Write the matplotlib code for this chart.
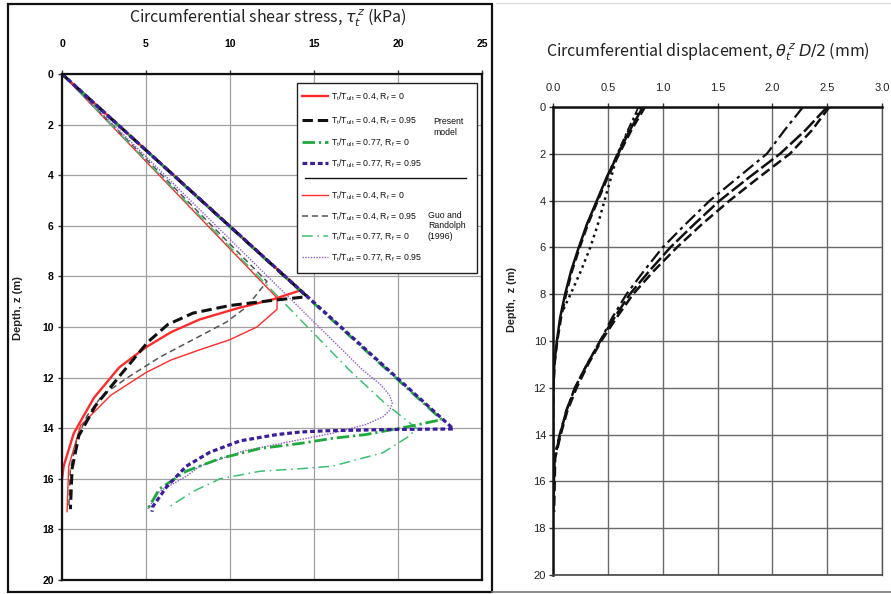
import matplotlib
matplotlib.use("Agg")
import matplotlib.pyplot as plt
from matplotlib.lines import Line2D
from matplotlib.patches import Rectangle

# ---------------- data: left panel (shear stress, kPa vs depth, m) ----------------
stress_ticks = [0, 5, 10, 15, 20, 25]
depth_ticks = [0, 2, 4, 6, 8, 10, 12, 14, 16, 18, 20]

p04_rf0_z = [0, 8.55, 8.9, 9.25, 9.7, 10.2, 10.8, 11.6, 12.8, 14.2, 15.5, 16.0]
p04_rf0_x = [0, 14.2, 12.6, 10.5, 8.2, 6.5, 5.0, 3.4, 1.9, 0.7, 0.1, 0.0]

p04_rf95_z = [0, 8.8, 8.95, 9.15, 9.45, 9.9, 10.6, 11.8, 13.1, 14.3, 15.6, 17.2]
p04_rf95_x = [0, 14.6, 12.5, 10.0, 7.8, 6.3, 5.1, 3.6, 2.0, 1.0, 0.6, 0.5]

p077_rf0_z = [0, 13.66, 13.9, 14.25, 14.4, 14.6, 14.8, 15.2, 15.7, 16.4, 17.2]
p077_rf0_x = [0, 22.6, 20.9, 18.1, 16.1, 14.2, 11.8, 9.4, 7.4, 5.8, 5.1]

p077_rf95_z = [0, 14.03, 14.05, 14.1, 14.15, 14.25, 14.5, 14.95, 15.5, 16.3, 17.1, 17.3]
p077_rf95_x = [0, 23.3, 19.7, 15.8, 14.2, 12.8, 10.6, 8.8, 7.4, 6.25, 5.4, 5.35]

g04_rf0_z = [0, 8.85, 9.3, 10.0, 10.5, 10.9, 11.3, 11.8, 12.7, 13.9, 15.5, 17.3]
g04_rf0_x = [0, 12.8, 12.8, 11.6, 10.0, 8.2, 6.5, 5.0, 2.9, 1.1, 0.4, 0.3]

g04_rf95_z = [0, 8.2, 9.2, 9.8, 10.5, 11.2, 12.0, 12.7, 13.5, 14.4, 15.6, 17.2]
g04_rf95_x = [0, 12.2, 11.0, 9.8, 7.8, 5.8, 3.9, 2.4, 1.5, 0.9, 0.5, 0.4]

g077_rf0_z = [0, 11.7, 13.0, 14.0, 14.3, 14.97, 15.5, 15.6, 15.7, 16.0, 16.5, 17.1]
g077_rf0_x = [0, 17.1, 19.2, 21.1, 20.7, 19.1, 16.1, 14.2, 11.8, 9.4, 7.8, 6.4]

g077_rf95_z = [0, 11.7, 12.3, 12.7, 13.0, 13.3, 13.55, 13.85, 14.2, 14.5, 14.9, 15.5, 15.9, 16.5, 17.2]
g077_rf95_x = [0, 17.9, 19.0, 19.5, 19.66, 19.5, 19.1, 18.1, 16.1, 13.8, 10.8, 8.2, 7.4, 5.8, 5.1]

present_labels = ["0.4, 0", "0.4, 0.95", "0.77, 0", "0.77, 0.95"]
guo_labels = ["0.4, 0", "0.4, 0.95", "0.77, 0", "0.77, 0.95"]

# ---------------- data: right panel (displacement, mm vs depth, m) ----------------
disp_ticks = [0.0, 0.5, 1.0, 1.5, 2.0, 2.5, 3.0]
disp_tick_labels = ["0.0", "0.5", "1.0", "1.5", "2.0", "2.5", "3.0"]

a_solid_z = [0, 1, 2, 3, 4, 5, 6, 7, 8, 9, 10, 11, 12, 13, 17.3]
a_solid_x = [0.82, 0.70, 0.595, 0.49, 0.40, 0.31, 0.235, 0.165, 0.11, 0.065, 0.035, 0.012, 0.003, 0.0, 0.0]
a_dash_z = [0, 1, 2, 3, 4, 5, 6, 7, 8, 9, 10, 11, 12, 13, 17.3]
a_dash_x = [0.84, 0.715, 0.605, 0.50, 0.41, 0.32, 0.245, 0.175, 0.12, 0.075, 0.04, 0.015, 0.006, 0.002, 0.002]
a_dashdot_z = [0, 1, 2, 3, 4, 5, 6]
a_dashdot_x = [0.78, 0.68, 0.585, 0.49, 0.40, 0.31, 0.235]
a_dot_z = [0, 1, 2, 3, 4, 5, 6, 7, 8, 8.7]
a_dot_x = [0.80, 0.69, 0.59, 0.53, 0.47, 0.41, 0.34, 0.255, 0.16, 0.09]

b_dashdot_z = [0, 1, 2, 3, 4, 5, 6, 7, 8, 9, 10, 11, 12, 13, 14, 15, 17.3]
b_dashdot_x = [2.28, 2.11, 1.95, 1.69, 1.43, 1.21, 1.00, 0.83, 0.67, 0.54, 0.43, 0.31, 0.20, 0.12, 0.06, 0.01, 0.0]
b_longdash_z = [0, 1, 2, 3, 4, 5, 6, 7, 8, 9, 10, 11, 12, 13, 14, 15, 17.3]
b_longdash_x = [2.50, 2.30, 2.07, 1.79, 1.52, 1.29, 1.07, 0.88, 0.70, 0.56, 0.43, 0.31, 0.20, 0.12, 0.065, 0.015, 0.0]
b_dash_z = [0, 1, 2, 3, 4, 5, 6, 7, 8, 9, 10, 11, 12, 13, 14, 15, 17.3]
b_dash_x = [2.52, 2.36, 2.16, 1.88, 1.61, 1.36, 1.13, 0.92, 0.73, 0.58, 0.44, 0.32, 0.215, 0.13, 0.07, 0.02, 0.01]

# ---------------- figure ----------------
W, H = 891, 594
fig = plt.figure(figsize=(W / 100, H / 100), dpi=100)


def fx(px):
    return px / W


def fy(py):
    return 1 - py / H


TICKFONT = "Liberation Sans"

# ---------- left axes ----------
L0, L1, T0, T1 = 62, 482, 74, 580
ax1 = fig.add_axes([fx(L0), fy(T1), (L1 - L0) / W, (T1 - T0) / H])
ax1.set_xlim(0, 25)
ax1.set_ylim(20, 0)
ax1.xaxis.tick_top()
ax1.set_xticks(stress_ticks)
ax1.set_yticks(depth_ticks)
ax1.grid(True, color="#a0a0a0", lw=0.9)
ax1.set_axisbelow(True)
for s in ax1.spines.values():
    s.set_linewidth(1.6)
    s.set_color("#111111")
ax1.tick_params(axis="both", direction="out", length=3, width=1, color="#333333")
ax1.tick_params(axis="x", pad=15)
ax1.tick_params(axis="y", pad=3)
for lab in ax1.get_xticklabels() + ax1.get_yticklabels():
    lab.set_fontfamily(TICKFONT)
    lab.set_fontsize(7.5)
    lab.set_fontweight("bold")

styles = {
    "p04_0": dict(color="#ff2a2a", lw=1.7, ls="-"),
    "p04_95": dict(color="#111111", lw=2.2, ls=(0, (3.4, 1.6))),
    "p077_0": dict(color="#1fa83c", lw=2.0, ls=(0, (4.5, 1.4, 0.8, 1.4))),
    "p077_95": dict(color="#3b1c9c", lw=2.3, ls=(0, (1.5, 0.9))),
    "g04_0": dict(color="#ff2a2a", lw=1.0, ls="-"),
    "g04_95": dict(color="#555555", lw=1.1, ls=(0, (4, 2.5))),
    "g077_0": dict(color="#3cc070", lw=1.1, ls=(0, (7, 3, 1, 3))),
    "g077_95": dict(color="#8a5ad0", lw=1.0, ls=(0, (1, 1))),
}

ax1.plot(g04_rf0_x, g04_rf0_z, **styles["g04_0"])
ax1.plot(g04_rf95_x, g04_rf95_z, **styles["g04_95"])
ax1.plot(g077_rf0_x, g077_rf0_z, **styles["g077_0"])
ax1.plot(g077_rf95_x, g077_rf95_z, **styles["g077_95"])
ax1.plot(p04_rf0_x, p04_rf0_z, **styles["p04_0"])
ax1.plot(p077_rf0_x, p077_rf0_z, **styles["p077_0"])
ax1.plot(p04_rf95_x, p04_rf95_z, **styles["p04_95"])
ax1.plot(p077_rf95_x, p077_rf95_z, **styles["p077_95"])

# legend (manual layout inside axes)
def ax_pt(px, py):
    return (px - L0) / (L1 - L0), (T1 - py) / (T1 - T0)

bx0, by0 = ax_pt(297, 273)
bx1, by1 = ax_pt(477, 83)
ax1.add_patch(Rectangle((bx0, by0), bx1 - bx0, by1 - by0, transform=ax1.transAxes,
                        facecolor="white", edgecolor="#222222", lw=1.0, zorder=5))
rows_p = [96, 120, 142, 163]
rows_g = [195, 216, 236, 257]
keys_p = ["p04_0", "p04_95", "p077_0", "p077_95"]
keys_g = ["g04_0", "g04_95", "g077_0", "g077_95"]
legfont = dict(family="Liberation Sans", fontsize=6.3, color="#111111", zorder=7)
for rows, keys, labels in ((rows_p, keys_p, present_labels), (rows_g, keys_g, guo_labels)):
    for py, k, lab in zip(rows, keys, labels):
        xa, ya = ax_pt(302, py)
        xb, _ = ax_pt(328, py)
        st = styles[k]
        ax1.add_line(Line2D([xa, xb], [ya, ya], transform=ax1.transAxes, color=st["color"],
                            lw=st["lw"], ls=st["ls"], zorder=6))
        tt, rr = lab.split(", ")
        xt, _ = ax_pt(331, py)
        ax1.text(xt, ya, r"T$_\mathregular{t}$/T$_\mathregular{ult}$ = " + tt + r", R$_\mathregular{f}$ = " + rr,
                 transform=ax1.transAxes, ha="left", va="center", **legfont)
sx0, sy = ax_pt(305, 178)
sx1, _ = ax_pt(466, 178)
ax1.add_line(Line2D([sx0, sx1], [sy, sy], transform=ax1.transAxes, color="#111111", lw=1.0, zorder=6))
xt, yt = ax_pt(433, 127)
ax1.text(xt, yt, "Present\nmodel", transform=ax1.transAxes, ha="left", va="center",
         linespacing=1.15, **legfont)
xt, yt = ax_pt(428, 226)
ax1.text(xt, yt, "Guo and\nRandolph\n(1996)", transform=ax1.transAxes, ha="left", va="center",
         linespacing=1.15, **legfont)

fig.text(fx(268), fy(18), r"Circumferential shear stress, $\tau_t^{\,z}$ (kPa)",
         ha="center", va="center", fontsize=11.5, family="Noto Sans CJK KR", color="#222222")
fig.text(fx(18), fy(308), "Depth, z (m)", rotation=90, ha="center", va="center",
         fontsize=8, fontweight="bold", family="Liberation Sans", color="#222222")

# ---------- right axes ----------
R0, R1, U0, U1 = 553, 882, 107, 575
ax2 = fig.add_axes([fx(R0), fy(U1), (R1 - R0) / W, (U1 - U0) / H])
ax2.set_xlim(0, 3.0)
ax2.set_ylim(20, 0)
ax2.xaxis.tick_top()
ax2.set_xticks(disp_ticks)
ax2.set_xticklabels(disp_tick_labels)
ax2.set_yticks(depth_ticks)
ax2.grid(True, color="#6a6a6a", lw=1.0)
ax2.set_axisbelow(True)
ax2.spines["left"].set_linewidth(1.8)
ax2.spines["top"].set_linewidth(1.8)
ax2.spines["left"].set_color("#111111")
ax2.spines["top"].set_color("#111111")
ax2.spines["right"].set_linewidth(1.0)
ax2.spines["right"].set_color("#555555")
ax2.spines["bottom"].set_linewidth(1.2)
ax2.spines["bottom"].set_color("#444444")
ax2.tick_params(axis="both", direction="out", length=3, width=1, color="#333333")
ax2.tick_params(axis="x", pad=7)
ax2.tick_params(axis="y", pad=2)
for lab in ax2.get_xticklabels() + ax2.get_yticklabels():
    lab.set_fontfamily(TICKFONT)
    lab.set_fontsize(8)
    lab.set_color("#222222")

blk = "#111111"
ax2.plot(a_solid_x, a_solid_z, color=blk, lw=1.8, ls="-")
ax2.plot(a_dash_x, a_dash_z, color=blk, lw=1.6, ls=(0, (4, 2)))
ax2.plot(a_dashdot_x, a_dashdot_z, color=blk, lw=1.2, ls=(0, (5, 2, 1.5, 2)))
ax2.plot(a_dot_x, a_dot_z, color=blk, lw=1.8, ls=(0, (1, 1.6)))
ax2.plot(b_dashdot_x, b_dashdot_z, color=blk, lw=1.6, ls=(0, (6, 2, 1.5, 2)))
ax2.plot(b_longdash_x, b_longdash_z, color=blk, lw=1.8, ls=(0, (6, 1.5)))
ax2.plot(b_dash_x, b_dash_z, color=blk, lw=1.8, ls=(0, (4, 1.8)))

fig.text(fx(708), fy(52), r"Circumferential displacement, $\theta_t^{\,z}$ $D/2$ (mm)",
         ha="center", va="center", fontsize=11.5, family="Noto Sans CJK KR", color="#222222")
fig.text(fx(512), fy(300), "Depth,  z (m)", rotation=90, ha="center", va="center",
         fontsize=7.8, fontweight="bold", family="Liberation Sans", color="#222222")

# ---------- panel frames ----------
fig.add_artist(Rectangle((fx(8), fy(592)), (492 - 8) / W, (592 - 4) / H, transform=fig.transFigure,
                         fill=False, edgecolor="#111111", lw=1.6))
fig.add_artist(Line2D([fx(492), fx(891)], [fy(592), fy(592)], transform=fig.transFigure,
                      color="#777777", lw=1.2))
fig.add_artist(Line2D([fx(496), fx(891)], [fy(3), fy(3)], transform=fig.transFigure,
                      color="#dddddd", lw=1.0))

fig.savefig("out.png", dpi=100)
